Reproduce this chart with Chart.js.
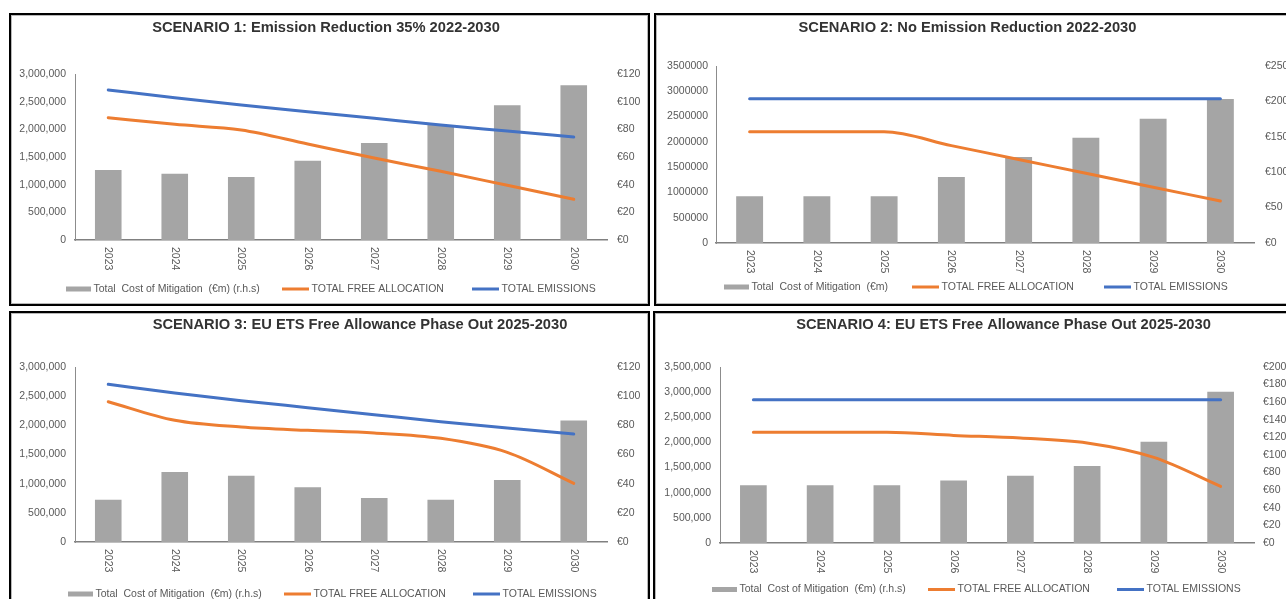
<!DOCTYPE html>
<html>
<head>
<meta charset="utf-8">
<script src="https://cdn.jsdelivr.net/npm/chart.js@4.4.1/dist/chart.umd.min.js"></script>
<style>
  html, body { margin: 0; padding: 0; background: #fff; width: 1286px; height: 599px; overflow: hidden; position: relative; }
  .panel { position: absolute; box-sizing: border-box; border: 2px solid #000; box-shadow: inset 0 0 0 1px #b8b8b8; background: #fff; }
  .panel canvas { position: absolute; left: 0; top: 0; }
</style>
</head>
<body>
<div class="panel" style="left:9px;top:13px;width:641px;height:293px"><canvas id="c1" width="637" height="289"></canvas></div>
<div class="panel" style="left:654px;top:13px;width:641px;height:293px"><canvas id="c2" width="637" height="289"></canvas></div>
<div class="panel" style="left:9px;top:311px;width:641px;height:300px"><canvas id="c3" width="637" height="296"></canvas></div>
<div class="panel" style="left:653px;top:311px;width:641px;height:300px"><canvas id="c4" width="637" height="296"></canvas></div>

<script>
// ---- data ----
const years = ['2023', '2024', '2025', '2026', '2027', '2028', '2029', '2030'];

// Scenario 1: Emission Reduction 35%
const s1Cost       = [50.6, 47.9, 45.5, 57.3, 70.1, 83.1, 97.4, 111.8];
const s1FreeAlloc  = [2210000, 2090000, 1988000, 1735000, 1482000, 1241000, 988000, 735000];
const s1Emissions  = [2711000, 2572000, 2440000, 2319000, 2199000, 2078000, 1970000, 1861000];

// Scenario 2: No Emission Reduction
const s2Cost       = [66, 66, 66, 93.2, 121.5, 148.7, 175.6, 203.4];
const s2FreeAlloc  = [2200000, 2200000, 2200000, 1926000, 1652000, 1378000, 1104000, 830000];
const s2Emissions  = [2850000, 2850000, 2850000, 2850000, 2850000, 2850000, 2850000, 2850000];

// Scenario 3: EU ETS Free Allowance Phase Out
const s3Cost       = [29.0, 48.0, 45.5, 37.5, 30.2, 29.0, 42.5, 83.4];
const s3FreeAlloc  = [2405000, 2086000, 1971000, 1914000, 1869000, 1777000, 1537000, 1006000];
const s3Emissions  = [2703000, 2554000, 2423000, 2303000, 2183000, 2063000, 1954000, 1851000];

// Scenario 4: EU ETS Free Allowance Phase Out
const s4Cost       = [65.5, 65.5, 65.5, 71.1, 76.5, 87.5, 115.1, 172];
const s4FreeAlloc  = [2200000, 2200000, 2200000, 2140000, 2088000, 1989000, 1702000, 1126000];
const s4Emissions  = [2850000, 2850000, 2850000, 2850000, 2850000, 2850000, 2850000, 2850000];

// axis ranges: [max, step]
const s1LeftAxis = [3000000, 500000], s1RightAxis = [120, 20];
const s2LeftAxis = [3500000, 500000], s2RightAxis = [250, 50];
const s3LeftAxis = [3000000, 500000], s3RightAxis = [120, 20];
const s4LeftAxis = [3500000, 500000], s4RightAxis = [200, 20];

const costLabelRhs = 'Total  Cost of Mitigation  (€m) (r.h.s)';
const costLabel    = 'Total  Cost of Mitigation  (€m)';
const freeLabel    = 'TOTAL FREE ALLOCATION';
const emisLabel    = 'TOTAL EMISSIONS';

// ---- styling ----
const FONT = '"Liberation Sans", Arial, sans-serif';
const TEXT = '#595959';
const BAR = '#a5a5a5';
const ORANGE = '#ed7d31';
const BLUE = '#4472c4';

Chart.defaults.font.family = FONT;
Chart.defaults.font.size = 10.5;
Chart.defaults.color = TEXT;

// Title, vertical year labels and the legend row
const panelDecor = {
  id: 'panelDecor',
  afterDraw(chart, args, o) {
    const ctx = chart.ctx;
    const area = chart.chartArea;
    ctx.save();

    ctx.font = 'bold 14.7px ' + FONT;
    ctx.fillStyle = '#333333';
    ctx.textAlign = 'center';
    ctx.textBaseline = 'middle';
    ctx.fillText(o.title, o.titleX, o.titleY);

    const xs = chart.scales.x;
    ctx.font = '10.5px ' + FONT;
    ctx.fillStyle = TEXT;
    chart.data.labels.forEach((lab, i) => {
      ctx.save();
      ctx.translate(xs.getPixelForValue(i), area.bottom + 7);
      ctx.rotate(Math.PI / 2);
      ctx.textAlign = 'left';
      ctx.textBaseline = 'middle';
      ctx.fillText(lab, 0, 0);
      ctx.restore();
    });

    chart.data.datasets.forEach((ds, i) => {
      const x = o.legendX[i];
      const y = o.legendY;
      let w;
      if (ds.type === 'line') {
        w = 27;
        ctx.fillStyle = ds.borderColor;
        ctx.fillRect(x, y - 1.5, w, 3);
      } else {
        w = 25;
        ctx.fillStyle = ds.backgroundColor;
        ctx.fillRect(x, y - 2.5, w, 5);
      }
      ctx.fillStyle = TEXT;
      ctx.textAlign = 'left';
      ctx.textBaseline = 'middle';
      ctx.fillText(ds.label, x + w + 2.5, y);
    });
    ctx.restore();
  }
};

function makeChart(id, cost, free, emis, costName, leftAxis, rightAxis, commas, L) {
  const fmtLeft = v => commas ? Number(v).toLocaleString('en-US') : String(v);
  return new Chart(document.getElementById(id), {
    type: 'bar',
    data: {
      labels: years,
      datasets: [
        { type: 'bar', label: costName, data: cost, yAxisID: 'yR', order: 2,
          backgroundColor: BAR, barPercentage: 0.8, categoryPercentage: 0.5 },
        { type: 'line', label: freeLabel, data: free, yAxisID: 'yL', order: 1,
          borderColor: ORANGE, backgroundColor: ORANGE, borderWidth: 3, pointRadius: 0,
          cubicInterpolationMode: 'monotone', borderCapStyle: 'round', borderJoinStyle: 'round', fill: false },
        { type: 'line', label: emisLabel, data: emis, yAxisID: 'yL', order: 0,
          borderColor: BLUE, backgroundColor: BLUE, borderWidth: 3, pointRadius: 0,
          cubicInterpolationMode: 'monotone', borderCapStyle: 'round', borderJoinStyle: 'round', fill: false }
      ]
    },
    options: {
      responsive: false,
      devicePixelRatio: 1,
      animation: false,
      layout: { padding: { top: L.top, left: 0, right: 0, bottom: 0 } },
      plugins: {
        legend: { display: false },
        title: { display: false },
        tooltip: { enabled: false },
        panelDecor: { title: L.title, titleX: L.titleX, titleY: L.titleY, legendX: L.legendX, legendY: L.legendY }
      },
      scales: {
        x: {
          type: 'category',
          grid: { display: false, drawTicks: false },
          ticks: { display: false },
          border: { display: true, color: '#808080', width: 1.5 },
          afterFit: s => { s.height = L.xH; }
        },
        yL: {
          position: 'left', min: 0, max: leftAxis[0],
          grid: { display: false, drawTicks: false },
          border: { display: true, color: '#8c8c8c', width: 1 },
          ticks: { stepSize: leftAxis[1], padding: L.padL, autoSkip: false, color: TEXT,
                   font: { size: 10.5 }, callback: fmtLeft },
          afterFit: s => { s.width = L.wL; }
        },
        yR: {
          position: 'right', min: 0, max: rightAxis[0],
          grid: { display: false, drawTicks: false },
          border: { display: false },
          ticks: { stepSize: rightAxis[1], padding: L.padR, autoSkip: false, color: TEXT,
                   font: { size: 10.5 }, callback: v => '€' + v },
          afterFit: s => { s.width = L.wR; }
        }
      }
    },
    plugins: [panelDecor]
  });
}

makeChart('c1', s1Cost, s1FreeAlloc, s1Emissions, costLabelRhs, s1LeftAxis, s1RightAxis, true, {
  title: 'SCENARIO 1: Emission Reduction 35% 2022-2030', titleX: 315, titleY: 13,
  top: 59, xH: 64, wL: 64, wR: 41, padL: 9, padR: 10,
  legendX: [55, 271, 461], legendY: 274
});
makeChart('c2', s2Cost, s2FreeAlloc, s2Emissions, costLabel, s2LeftAxis, s2RightAxis, false, {
  title: 'SCENARIO 2: No Emission Reduction 2022-2030', titleX: 311.5, titleY: 13,
  top: 51, xH: 61, wL: 60, wR: 39, padL: 8, padR: 11,
  legendX: [68, 256, 448], legendY: 272
});
makeChart('c3', s3Cost, s3FreeAlloc, s3Emissions, costLabelRhs, s3LeftAxis, s3RightAxis, true, {
  title: 'SCENARIO 3: EU ETS Free Allowance Phase Out 2025-2030', titleX: 349, titleY: 11.5,
  top: 54, xH: 67, wL: 64, wR: 41, padL: 9, padR: 10,
  legendX: [57, 273, 462], legendY: 281
});
makeChart('c4', s4Cost, s4FreeAlloc, s4Emissions, costLabelRhs, s4LeftAxis, s4RightAxis, true, {
  title: 'SCENARIO 4: EU ETS Free Allowance Phase Out 2025-2030', titleX: 348.5, titleY: 11.5,
  top: 54, xH: 66, wL: 65, wR: 38, padL: 9, padR: 9,
  legendX: [57, 273, 462], legendY: 276.5
});
</script>
</body>
</html>
